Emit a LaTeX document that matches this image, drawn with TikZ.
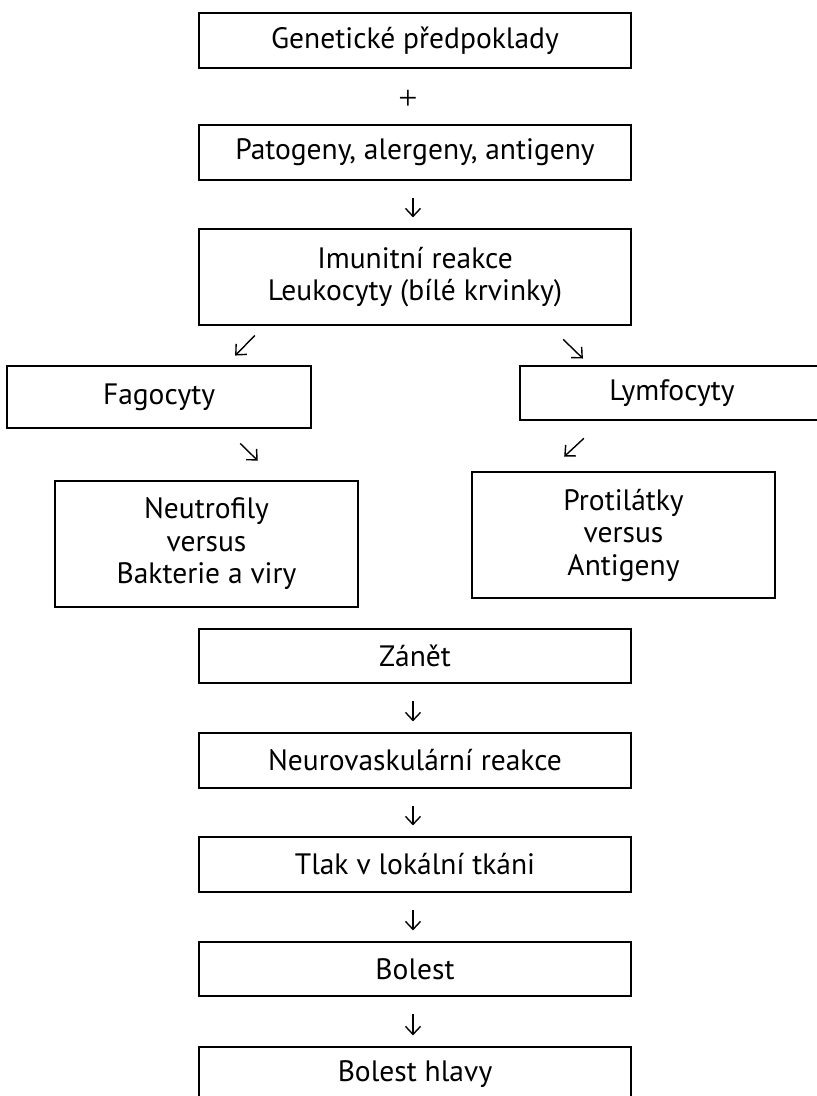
\documentclass[tikz,border=0pt]{standalone}
\usepackage{fontspec}
\setmainfont{PT Sans}
\newfontfamily\plusfont{Liberation Serif}
\usetikzlibrary{arrows.meta}

\begin{document}
\begin{tikzpicture}[x=1pt,y=-1pt,inner sep=0pt,
  box/.style={draw,line width=1.2pt,align=center,font=\fontsize{29.5}{32.5}\selectfont},
  wide/.style={box,minimum width=432pt,minimum height=55pt},
  side/.style={box,minimum width=304pt},
  arr/.style={-{Straight Barb[length=8pt,width=15pt,line width=1.4pt]},line width=1.4pt},
  down/.style={arr,shorten <=17.5pt,shorten >=11pt}]
\useasboundingbox (0,0) rectangle (817,1096);
% main column
\node[wide] (gen) at (415,40.5) {Genetické předpoklady};
\node (plus) at (408,100) {\plusfont\fontsize{34}{36}\selectfont +};
\node[wide] (pat) at (415,152.5) {Patogeny, alergeny, antigeny};
\node[wide,minimum height=96pt] (imu) at (415,277) {Imunitní reakce\\Leukocyty (bílé krvinky)};
% two branches
\node[side,minimum height=62pt] (fag) at (159,397) {Fagocyty};
\node[side,minimum height=54pt] (lym) at (672,393) {Lymfocyty};
\node[side,minimum width=303pt,minimum height=126pt] (neu) at (206.5,544) {Neutrofily\\versus\\Bakterie a viry};
\node[side,minimum width=303pt,minimum height=126pt] (pro) at (623.5,535) {Protilátky\\versus\\Antigeny};
% lower column
\node[wide,minimum height=54pt] (zan) at (415,656) {Zánět};
\node[wide] (nvr) at (415,760.5) {Neurovaskulární reakce};
\node[wide] (tla) at (415,864.5) {Tlak v lokální tkáni};
\node[wide,minimum height=54pt] (bol) at (415,969) {Bolest};
\node[wide] (hla) at (415,1074.5) {Bolest hlavy};

\draw[down] ([xshift=-2pt]pat.south) -- ([xshift=-2pt]imu.north);
\draw[arr,shorten <=13.8pt,shorten >=13.8pt] ([xshift=-150.5pt]imu.south) -- ([xshift=66.5pt]fag.north);
\draw[arr,shorten <=19.8pt,shorten >=9.9pt] ([xshift=134pt]imu.south) -- ([xshift=-82pt]lym.north);
\draw[arr,shorten <=21.2pt,shorten >=28.3pt] ([xshift=66pt]fag.south) -- ([xshift=71.5pt]neu.north);
\draw[arr,shorten <=26.1pt,shorten >=21.8pt] ([xshift=-69pt]lym.south) -- ([xshift=-75.3pt]pro.north);
\draw[down] ([xshift=-2pt]zan.south) -- ([xshift=-2pt]nvr.north);
\draw[down] ([xshift=-2pt]nvr.south) -- ([xshift=-2pt]tla.north);
\draw[down] ([xshift=-2pt]tla.south) -- ([xshift=-2pt]bol.north);
\draw[down] ([xshift=-2pt]bol.south) -- ([xshift=-2pt]hla.north);
\end{tikzpicture}
\end{document}
